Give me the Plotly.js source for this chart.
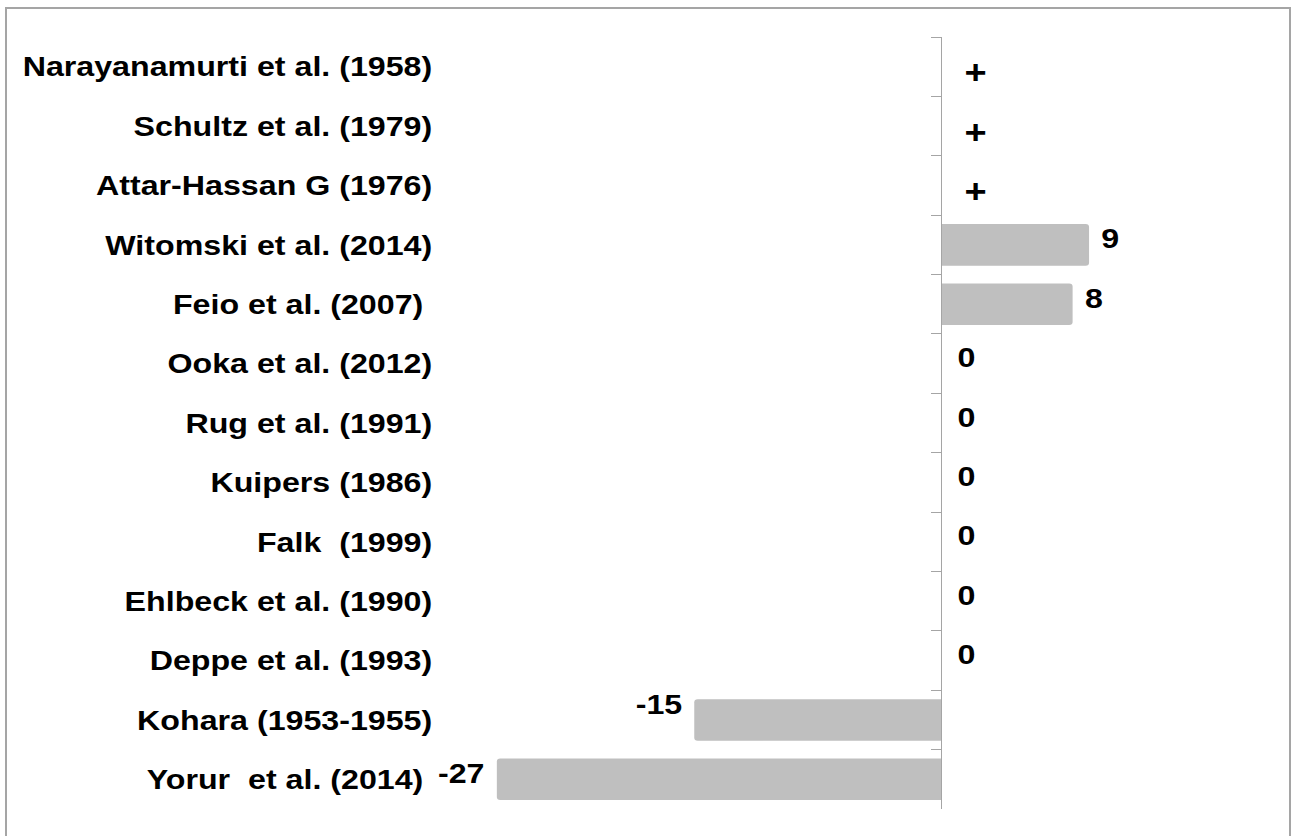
<!DOCTYPE html>
<html>
<head>
<meta charset="utf-8">
<script src="https://cdn.plot.ly/plotly-3.0.1.min.js"></script>
<style>
  html, body { margin: 0; padding: 0; background: #ffffff; overflow: hidden; }
  #wrap { position: absolute; left: 0; top: 0; width: 1124px; height: 836px;
          transform: scaleX(1.1495); transform-origin: 0 0; }
  #frame { position: absolute; left: 5px; top: 7px; width: 1286px; height: 840px;
           border: 2px solid #a5a5a5; box-sizing: border-box; pointer-events: none; }
</style>
</head>
<body>
<div id="wrap"><div id="chart"></div></div>
<div id="frame"></div>
<script>
// ---- data ----
const categories = [
  "Narayanamurti et al. (1958)",
  "Schultz et al. (1979)",
  "Attar-Hassan G (1976)",
  "Witomski et al. (2014)",
  "Feio et al. (2007)\u00a0",
  "Ooka et al. (2012)",
  "Rug et al. (1991)",
  "Kuipers (1986)",
  "Falk \u00a0(1999)",
  "Ehlbeck et al. (1990)",
  "Deppe et al. (1993)",
  "Kohara (1953-1955)",
  "Yorur \u00a0et al. (2014)\u00a0"
];
const values = [null, null, null, 9, 8, 0, 0, 0, 0, 0, 0, -15, -27];
const valueLabels = ["+", "+", "+", "9", "8", "0", "0", "0", "0", "0", "0", "-15", "-27"];

// ---- style ----
const FONT = "Liberation Sans, Arial, Helvetica, sans-serif";
const xRange = [-30.16, 20.57];
const axisPos = (0 - xRange[0]) / (xRange[1] - xRange[0]);
const labelLift = { "Kohara (1953-1955)": 15 };

const annotations = categories.map((c, i) => {
  const v = values[i];
  const base = { xref: "x", yref: "y", y: c, text: valueLabels[i], showarrow: false,
                 font: { family: FONT, size: 28, color: "#000000", weight: "bold" } };
  if (v === null) {
    base.font = Object.assign({}, base.font, { size: 33 });
    return Object.assign(base, { x: 0, xanchor: "center", xshift: 30, yshift: -6 });
  }
  const lift = labelLift[c] !== undefined ? labelLift[c] : 6;
  if (v === 0) return Object.assign(base, { x: 0, xanchor: "left", xshift: 12, yshift: lift });
  if (v > 0) return Object.assign(base, { x: v, xanchor: "left", xshift: 9, yshift: lift });
  return Object.assign(base, { x: v, xanchor: "right", xshift: -9, yshift: lift });
});

const trace = {
  type: "bar",
  orientation: "h",
  x: values,
  y: categories,
  width: 0.7,
  marker: { color: "#bfbfbf", cornerradius: 3, line: { width: 0 } },
  hoverinfo: "x+y",
  showlegend: false
};

const layout = {
  width: 1124,
  height: 836,
  margin: { l: 387, r: 11, t: 37, b: 27, pad: 0 },
  paper_bgcolor: "#ffffff",
  plot_bgcolor: "#ffffff",
  font: { family: FONT, size: 28, color: "#000000" },
  showlegend: false,
  xaxis: { range: xRange, visible: false, fixedrange: true },
  yaxis: {
    type: "category",
    categoryorder: "array",
    categoryarray: categories,
    range: [categories.length - 0.5, -0.5],
    anchor: "free",
    position: axisPos,
    side: "left",
    showline: true,
    linecolor: "#a5a5a5",
    linewidth: 1,
    ticks: "outside",
    tickson: "boundaries",
    ticklen: 9,
    tickwidth: 1,
    tickcolor: "#a5a5a5",
    showgrid: false,
    zeroline: false,
    automargin: false,
    ticklabelstandoff: 437,
    tickfont: { family: FONT, size: 28, color: "#000000", weight: "bold" },
    fixedrange: true
  },
  annotations: annotations
};

Plotly.newPlot("chart", [trace], layout, { displayModeBar: false, staticPlot: true });
</script>
</body>
</html>
